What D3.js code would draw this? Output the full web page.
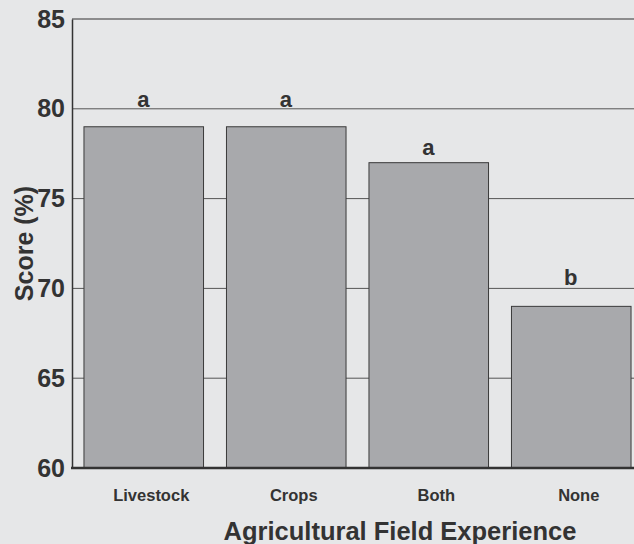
<!DOCTYPE html>
<html>
<head>
<meta charset="utf-8">
<script src="https://cdn.jsdelivr.net/npm/d3@7"></script>
<style>
  html, body { margin: 0; padding: 0; background: #e6e7e8; }
  svg { display: block; }
  text { font-family: "Liberation Sans", Arial, Helvetica, sans-serif; font-weight: bold; fill: #333; }
</style>
</head>
<body>
<svg id="chart" width="634" height="544"></svg>
<script>
// Mean score by agricultural field experience, with significance letters
const categories = ["Livestock", "Crops", "Both", "None"];
const scores = [79, 79, 77, 69];
const groupLetters = ["a", "a", "a", "b"];
const yTicks = [60, 65, 70, 75, 80, 85];

const W = 634, H = 544;
const plot = { left: 72, right: 642, top: 19, bottom: 468 };

const svg = d3.select("#chart");
svg.append("rect").attr("width", W).attr("height", H).attr("fill", "#e6e7e8");

const x = d3.scaleBand()
  .domain(categories)
  .range([plot.left, plot.right])
  .paddingInner(0.161)
  .paddingOuter(0.0805);

const y = d3.scaleLinear().domain([60, 85]).range([plot.bottom, plot.top]);

// horizontal gridlines behind the bars
svg.append("g")
  .selectAll("line")
  .data(yTicks.filter(t => t > 60 && t < 85))
  .join("line")
  .attr("x1", plot.left).attr("x2", plot.right)
  .attr("y1", d => y(d)).attr("y2", d => y(d))
  .attr("stroke", "#555").attr("stroke-width", 1);

// top frame line
svg.append("line")
  .attr("x1", plot.left).attr("x2", plot.right)
  .attr("y1", y(85)).attr("y2", y(85))
  .attr("stroke", "#333").attr("stroke-width", 1.2);

// bars
const data = categories.map((c, i) => ({ c, v: scores[i], g: groupLetters[i] }));
svg.append("g")
  .selectAll("rect")
  .data(data)
  .join("rect")
  .attr("x", d => x(d.c) + 0.5)
  .attr("y", d => y(d.v))
  .attr("width", x.bandwidth())
  .attr("height", d => y(60) - y(d.v))
  .attr("fill", "#a8a9ac")
  .attr("stroke", "#3a3a3a")
  .attr("stroke-width", 1);

// significance letters above bars (lift in px above the bar top)
const letterLift = [20, 20, 8, 21];
svg.append("g")
  .selectAll("text")
  .data(data)
  .join("text")
  .attr("x", d => x(d.c) + x.bandwidth() / 2)
  .attr("y", (d, i) => y(d.v) - letterLift[i])
  .attr("text-anchor", "middle")
  .attr("font-size", 22)
  .text(d => d.g);

// left axis
const yAxis = d3.axisLeft(y).tickValues(yTicks).tickSize(0).tickPadding(7);
const gy = svg.append("g").attr("transform", `translate(${plot.left},0)`).call(yAxis);
gy.select(".domain").attr("stroke", "#333").attr("stroke-width", 1.5);
gy.selectAll("text")
  .attr("font-size", 25)
  .attr("font-family", "'Liberation Sans', Arial, sans-serif")
  .attr("font-weight", "bold")
  .attr("fill", "#333");

// bottom axis
const xAxis = d3.axisBottom(x).tickSize(0).tickPadding(21);
const gx = svg.append("g").attr("transform", `translate(0,${plot.bottom})`).call(xAxis);
gx.select(".domain").remove();
svg.append("line")
  .attr("x1", plot.left - 1).attr("x2", plot.right)
  .attr("y1", plot.bottom).attr("y2", plot.bottom)
  .attr("stroke", "#333").attr("stroke-width", 2.5);
gx.selectAll("text")
  .attr("dx", 8)
  .attr("font-size", 16.5)
  .attr("font-family", "'Liberation Sans', Arial, sans-serif")
  .attr("font-weight", "bold")
  .attr("fill", "#333");

// axis titles
svg.append("text")
  .attr("x", 400).attr("y", 540)
  .attr("text-anchor", "middle")
  .attr("font-size", 25.5)
  .text("Agricultural Field Experience");

svg.append("text")
  .attr("transform", `translate(33,${(plot.top + plot.bottom) / 2}) rotate(-90)`)
  .attr("text-anchor", "middle")
  .attr("font-size", 25)
  .text("Score (%)");
</script>
</body>
</html>
